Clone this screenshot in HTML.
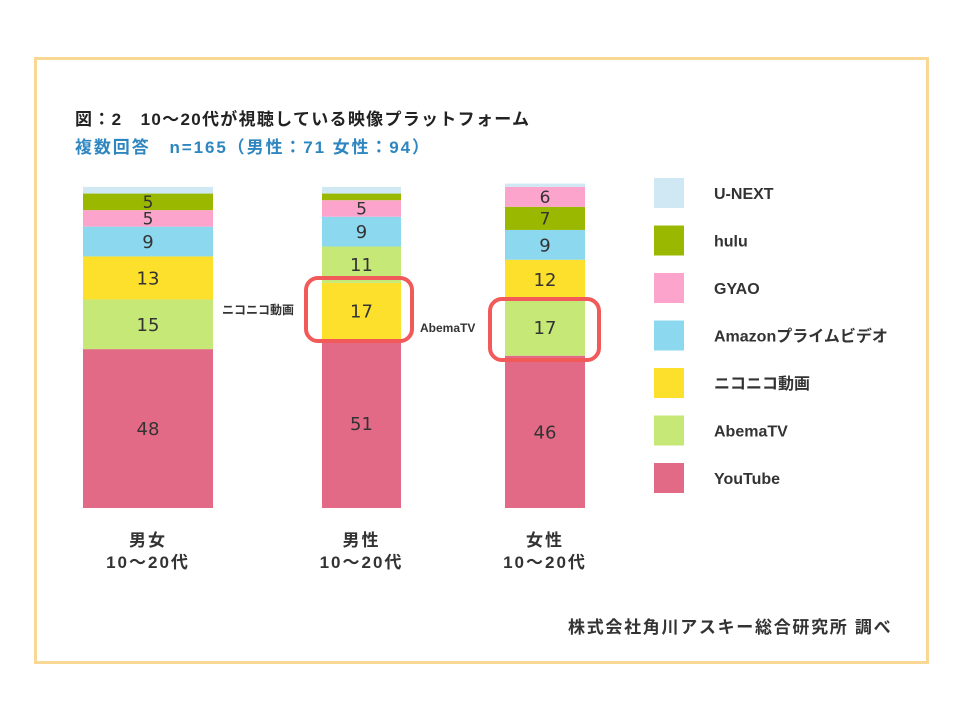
<!DOCTYPE html>
<html><head><meta charset="utf-8">
<style>
body{margin:0;width:960px;height:720px;background:#fff;font-family:"Liberation Sans","Noto Sans CJK JP",sans-serif;}
#frame{position:absolute;left:34px;top:57px;width:889px;height:601px;border:3px solid #f8d894;}
.t{position:absolute;white-space:nowrap;font-weight:bold;}
</style></head><body>
<div id="frame"></div>
<div class="t" style="left:75px;top:105px;font-size:17px;letter-spacing:1.3px;color:#222;">図：2　10～20代が視聴している映像プラットフォーム</div>
<div class="t" style="left:75px;top:133px;font-size:17px;letter-spacing:1.9px;color:#2e86c1;">複数回答　n=165（男性：71 女性：94）</div>
<svg id="chart" width="960" height="720" style="position:absolute;left:0;top:0"></svg>
<div class="t" style="left:568px;top:613px;font-size:17px;letter-spacing:1.7px;color:#333;">株式会社角川アスキー総合研究所 調べ</div>
<script>
const categories=["男女\n10～20代","男性\n10～20代","女性\n10～20代"];
const seriesNames=["YouTube","AbemaTV","ニコニコ動画","Amazonプライムビデオ","GYAO","hulu","U-NEXT"];
const colors=["#e36a86","#c6e877","#fde02c","#8cd9ef","#fca4cb","#9ab800","#cfe8f4"];
const stackOrder=[[0,1,2,3,4,5,6],[0,2,1,3,4,5,6],[0,1,2,3,5,4,6]];
const youtube=[48,51,46];
const abema=[15,11,17];
const nico=[13,17,12];
const amazon=[9,9,9];
const gyao=[5,5,6];
const hulu=[5,2,7];
const unext=[2,2,1];
const showLabel=[[1,1,1,1,1,1,0],[1,1,1,1,1,0,0],[1,1,1,1,1,1,0]];
const values=[youtube,abema,nico,amazon,gyao,hulu,unext];
const svg=document.getElementById('chart');
const NS="http://www.w3.org/2000/svg";
const base=508, scale=3.31;
const y=v=>base-v*scale;
const barX=[83,322,505], barW=[130,79,80];
function mk(tag,attrs){const e=document.createElementNS(NS,tag);for(const k in attrs)e.setAttribute(k,attrs[k]);svg.appendChild(e);return e;}
categories.forEach((c,i)=>{
  let cum=0;
  stackOrder[i].forEach(s=>{
    const v=values[s][i];
    const r=mk('rect',{x:barX[i],y:y(cum+v),width:barW[i],height:v*scale,fill:colors[s]});
    
    
    if(showLabel[i][s]){
      const fs=v<8?17:18;
      const t=mk('text',{x:barX[i]+barW[i]/2,y:y(cum+v/2)+fs*0.36,'text-anchor':'middle','font-size':fs,fill:'#333','font-family':'DejaVu Sans, sans-serif'});
      t.textContent=v;
      
      
    }
    cum+=v;
  });
  c.split("\n").forEach((line,k)=>{
    const t=mk('text',{x:barX[i]+barW[i]/2,y:546+k*22,'text-anchor':'middle','font-size':17,'font-weight':'bold','letter-spacing':2,fill:'#333','font-family':'Liberation Sans, Noto Sans CJK JP, sans-serif'});
    t.textContent=line;
    
    
  });
});
const legendOrder=[6,5,4,3,2,1,0];
legendOrder.forEach((s,k)=>{
  const yy=178+k*47.5;
  const r=mk('rect',{x:654,y:yy,width:30,height:30,fill:colors[s]});
  
  
  const t=mk('text',{x:714,y:yy+21,'font-size':16,'font-weight':'bold',fill:'#333','font-family':'Liberation Sans, Noto Sans CJK JP, sans-serif'});
  t.textContent=seriesNames[s];
  
  
});
const h1=mk('rect',{x:306,y:278,width:106,height:63,rx:12,fill:'none',stroke:'#f25a5a','stroke-width':4});


const h2=mk('rect',{x:490,y:299,width:109,height:61,rx:12,fill:'none',stroke:'#f25a5a','stroke-width':4});


const a1=mk('text',{x:222,y:314,'font-size':12,'font-weight':'bold',fill:'#333','font-family':'Liberation Sans, Noto Sans CJK JP, sans-serif'});
a1.textContent='ニコニコ動画';


const a2=mk('text',{x:420,y:332,'font-size':12,'font-weight':'bold',fill:'#333','font-family':'Liberation Sans, sans-serif'});
a2.textContent='AbemaTV';


</script>
</body></html>
